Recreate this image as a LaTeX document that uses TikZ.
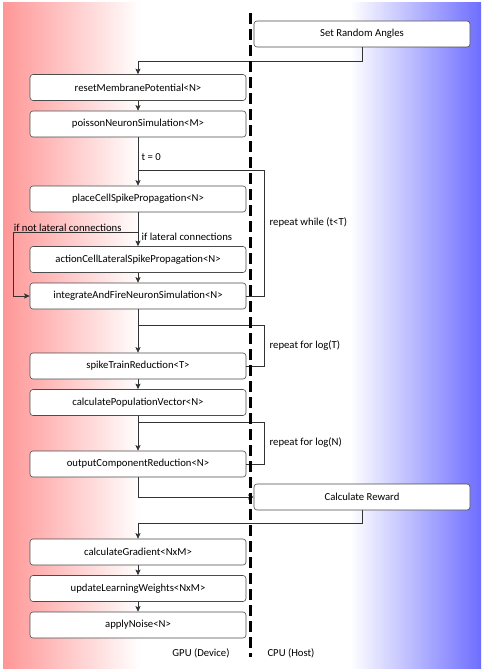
\documentclass[tikz,border=0pt]{standalone}
\usepackage{fontspec}
\setmainfont{Carlito}
\usepackage[dvipsnames]{xcolor}
\usetikzlibrary{arrows.meta}
\definecolor{gpured}{RGB}{255,150,150}
\definecolor{cpublue}{RGB}{110,110,255}

\begin{document}
\begin{tikzpicture}[x=1pt,y=1pt,->,>={Stealth[length=5.5pt,width=5pt,inset=1pt]},auto,node distance=36.5pt,line width=0.6pt,draw=black!80,
    every node/.style={font=\fontsize{10.7pt}{12pt}\selectfont},
    kernel/.style={draw=black!70,fill=white,rounded corners=3pt,minimum width=216pt,minimum height=26pt,inner sep=0pt}]
            \useasboundingbox (0,0) rectangle (484,-671);
            % background: device side red, host side blue
            \shade[-,left color=gpured,right color=white] (3,-3) rectangle (140,-668);
            \fill[-,white] (140,-3) rectangle (350,-668);
            \shade[-,left color=white,right color=cpublue] (350,-3) rectangle (481,-668);

            \node[kernel] (1) at (138,-87.5) {resetMembranePotential<N>};
            \node[kernel] (0) [right of = 1, xshift = 187.5, yshift = 53.5]{Set Random Angles};
            \node[kernel] (2) [below of = 1]{poissonNeuronSimulation<M>};
            \node[kernel] (3) [below of = 2, yshift = -38.5]{placeCellSpikePropagation<N>};
            \node[kernel] (4) [below of = 3, yshift = -24]{actionCellLateralSpikePropagation<N>};
            \node[kernel] (5) [below of = 4]{integrateAndFireNeuronSimulation<N>};
            \node[kernel] (6) [below of = 5, yshift = -33.5]{spikeTrainReduction<T>};
            \node[kernel] (7) [below of = 6]{calculatePopulationVector<N>};
            \node[kernel] (8) [below of = 7, yshift = -25]{outputComponentReduction<N>};
            \node[kernel] (9) [right of = 8, xshift = 187.5, yshift = -33]{Calculate Reward};
            \node[kernel] (10) [below of = 8, yshift = -51.5]{calculateGradient<NxM>};
            \node[kernel] (11) [below of = 10]{updateLearningWeights<NxM>};
            \node[kernel] (12) [below of = 11]{applyNoise<N>};
            \node[] (13) [below of = 12, xshift = 63, yshift = 8.5]{GPU (Device)};
            \node[] (14) [right of = 13, xshift = 53.5]{CPU (Host)};

            % loop junctions
            \coordinate[above of = 3, yshift = -7.5] (t);
            \coordinate[below of = 3, yshift = 3.5] (l);
            \coordinate[above of = 6, yshift = 4.5] (s);
            \coordinate[above of = 8, yshift = 5.5] (o);
            \coordinate (d1) at (250.5,-13);
            \coordinate (d2) at (250.5,-657);

            \path
                (1) edge (2)
                (2) edge node[pos=0.4]{t = 0} (3)
                (3) edge node[pos=0.72]{if lateral connections} (4)
                (4) edge (5)
                (5) edge (6)
                (6) edge (7)
                (7) edge (8)
                (10) edge (11)
                (11) edge (12)
                ;
            \draw (0.south) -- ++(0,-14) -| (1.north);
            \draw (l) -- node[pos=1,above right,inner sep=0.5pt]{if not lateral connections} ++(-125,0) |- (5.west);
            \draw[-] (5.east) -- ++(18,0) |- node[pos=0.29,right,inner sep=5pt]{repeat while (t<T)} (t);
            \draw[-] (6.east) -- ++(18,0) |- node[pos=0.25,right,inner sep=5pt]{repeat for log(T)} (s);
            \draw[-] (8.east) -- ++(18,0) |- node[pos=0.25,right,inner sep=5pt]{repeat for log(N)} (o);
            \draw (8.south) |- (9.west);
            \draw (9.south) -- ++(0,-13) -| (10.north);

            % device / host divider
            \draw[-,line width=3.3pt,black,dash pattern=on 11pt off 5pt] (d1) -- (d2);
        \end{tikzpicture}
\end{document}
